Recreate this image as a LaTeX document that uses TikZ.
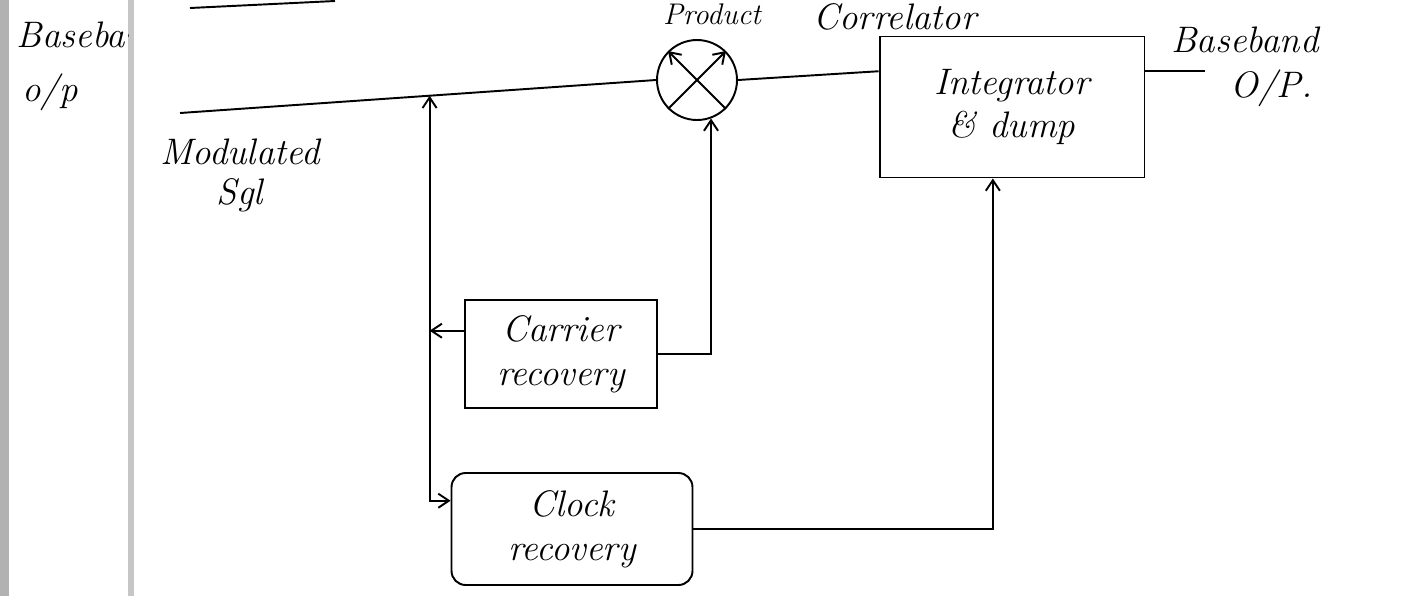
\documentclass[tikz,border=0pt]{standalone}
\usepackage{tikz}
\usetikzlibrary{positioning,arrows.meta,calc}

\begin{document}
\begin{tikzpicture}[
    x=0.02cm, y=-0.02cm,
    line width=1.1pt,
    every node/.style={font=\fontsize{21}{25}\selectfont\itshape},
    block/.style={
        draw,
        rectangle,
        line width=1.1pt,
        align=center
    },
    mixer/.style={draw, circle, minimum size=1.6cm, line width=1.1pt},
    arrow/.style={-{Straight Barb[length=6pt,width=8pt]}}
]
\useasboundingbox (0,0) rectangle (1419,596);

% page edge and margin rule
\fill[gray!60] (0,0) rectangle (9,596);
\fill[gray!45] (128,0) rectangle (134,596);

% left margin text, cut by the rule
\begin{scope}
\clip (0,0) rectangle (128,596);
\node[anchor=west] (bbin) at (10,35) {Baseband};
\end{scope}
\node (opin) at (50,92) {o/p};

% end of the previous figure
\coordinate (prevA) at (190,8);
\coordinate (prevB) at (335,1);
\draw (prevA) -- (prevB);

\node[mixer] (mix) at (697,80) {};

\node[block, minimum width=5.3cm, minimum height=2.82cm] (integ) at (1012,107) {
Integrator \\
\& dump
};

\node[block, minimum width=3.84cm, minimum height=2.16cm] (carrier) at (561,354) {
Carrier \\
recovery
};

\node[block, rounded corners=8pt, minimum width=4.82cm, minimum height=2.24cm] (clock) at (572,529) {
Clock \\
recovery
};

\node[font=\fontsize{17}{20}\selectfont\itshape] (prod) at (712,14) {Product};
\node (correl) at (895,17) {Correlator};
\node (modl) at (240,152) {Modulated};
\node[below=0pt of modl] (sgl) {Sgl};
\node (bbout) at (1245,40) {Baseband};
\node[below=2pt of bbout, xshift=15pt] (opout) {O/P.};

\coordinate (sig) at (180,113);
\coordinate (tap) at ($(sig)!(423,0)!(mix.west)$);
\coordinate (split) at ($(tap)+(0,235)$);
\coordinate (down) at ($(split)+(0,170)$);

\draw[arrow] (mix.-45) -- (mix.135);
\draw[arrow] (mix.-135) -- (mix.45);

\draw (sig) -- (mix.west);
\draw[arrow] (split) -- (tap);
\draw[arrow] (carrier.west |- split) -- (split);
\draw[arrow] (split) -- (down) -- (down -| clock.west);
\draw[arrow] (carrier.east) -| (mix.-70);
\draw (mix.east) -- (integ.165);
\draw[arrow] (clock.east) -| (integ.-105);
\draw (integ.15) -- ++(60,0) coordinate (out);

\end{tikzpicture}
\end{document}
